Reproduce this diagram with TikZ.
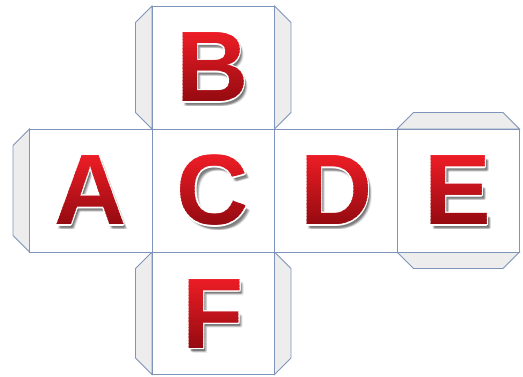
\documentclass[tikz,border=0pt]{standalone}
\usepackage{fontspec}
\setmainfont{Liberation Sans}
\definecolor{edge}{HTML}{7F94BA}
\definecolor{flapfill}{HTML}{EDEDED}
\definecolor{bright}{HTML}{EF1D26}
\definecolor{dark}{HTML}{920A10}
\tikzset{
  face/.style={draw=edge, fill=white, line width=0.9pt},
  flap/.style={draw=edge, fill=flapfill, line width=0.9pt, line join=miter},
  lt/.style={inner sep=0pt, outer sep=0pt, anchor=center, font=\fontsize{100}{100}\selectfont\bfseries},
}
\newcommand\cubeletter[4]{%
  \begin{scope}[shift={(#1,#2)}]
    \foreach \dx/\dy/\op in {2.5/3.5/0.14, 1.8/2.6/0.12, 3.2/4.4/0.12, 3.6/3.2/0.10, 1.6/4.2/0.10, 4.2/5.0/0.08}
      \node[lt, text=black, opacity=\op] at (\dx,\dy) {#3};
    \foreach \a in {0,30,...,330}
      \node[lt, text=white] at (\a:1.2) {#3};
    \foreach \i in {0,...,23} {
      \pgfmathsetmacro\pct{100*\i/23}
      \begin{scope}
        \clip (-70,{-38+\i*3.2}) rectangle (70,{-38+(\i+1)*3.2+0.4});
        \node[lt, text=dark!\pct!bright] (#4) at (0,0) {#3};
      \end{scope}
    }
  \end{scope}}
\begin{document}
\begin{tikzpicture}[x=1pt, y=-1pt]
  \useasboundingbox (0,0) rectangle (523,376);
  \def\xa{29.5}\def\xb{152}\def\xc{274.5}\def\xd{397}\def\xe{519.5}
  \def\ya{6}\def\yb{129}\def\yc{252}\def\yd{374.5}
  \def\d{16.5}
  % flaps
  \path[flap] (\xb,\ya) -- ({\xb-\d},{\ya+\d}) -- ({\xb-\d},{\yb-\d}) -- (\xb,\yb) -- cycle;
  \path[flap] (\xc,\ya) -- ({\xc+\d},{\ya+\d}) -- ({\xc+\d},{\yb-\d}) -- (\xc,\yb) -- cycle;
  \path[flap] (\xa,\yb) -- ({\xa-\d},{\yb+\d}) -- ({\xa-\d},{\yc-\d}) -- (\xa,\yc) -- cycle;
  \path[flap] (\xd,\yb) -- ({\xd+\d},{\yb-\d}) -- ({\xe-\d},{\yb-\d}) -- (\xe,\yb) -- cycle;
  \path[flap] (\xd,\yc) -- ({\xd+\d},{\yc+\d}) -- ({\xe-\d},{\yc+\d}) -- (\xe,\yc) -- cycle;
  \path[flap] (\xb,\yc) -- ({\xb-\d},{\yc+\d}) -- ({\xb-\d},{\yd-\d}) -- (\xb,\yd) -- cycle;
  \path[flap] (\xc,\yc) -- ({\xc+\d},{\yc+\d}) -- ({\xc+\d},{\yd-\d}) -- (\xc,\yd) -- cycle;
  % faces
  \path[face] (\xb,\ya) rectangle (\xc,\yb);
  \path[face] (\xa,\yb) rectangle (\xb,\yc);
  \path[face] (\xb,\yb) rectangle (\xc,\yc);
  \path[face] (\xc,\yb) rectangle (\xd,\yc);
  \path[face] (\xd,\yb) rectangle (\xe,\yc);
  \path[face] (\xb,\yc) rectangle (\xc,\yd);
  % letters
  \cubeletter{212.5}{67.5}{B}{lb}
  \cubeletter{90.5}{190.5}{A}{la}
  \cubeletter{213}{190.5}{C}{lc}
  \cubeletter{336.5}{190.5}{D}{ld}
  \cubeletter{458}{190.5}{E}{le}
  \cubeletter{213}{314}{F}{lf}
\end{tikzpicture}
\end{document}
